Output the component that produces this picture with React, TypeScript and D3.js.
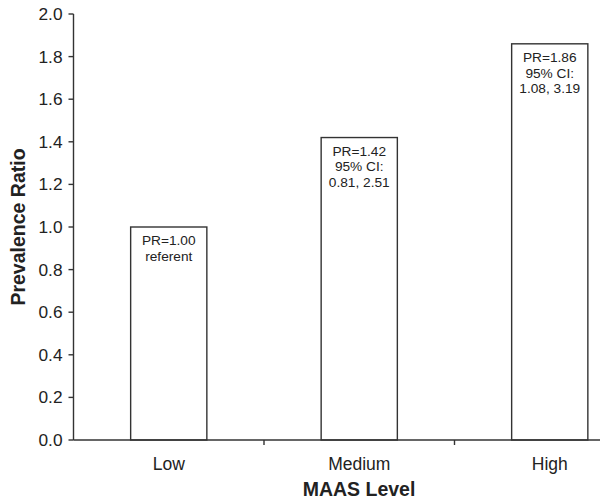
import React from 'react';
import * as d3 from 'd3';

// MAAS level categories and prevalence ratios
const categories = ['Low', 'Medium', 'High'];
const ratios = [1.0, 1.42, 1.86];
const annotations = [
  ['PR=1.00', 'referent'],
  ['PR=1.42', '95% CI:', '0.81, 2.51'],
  ['PR=1.86', '95% CI:', '1.08, 3.19'],
];
const yTicks = [0, 0.2, 0.4, 0.6, 0.8, 1.0, 1.2, 1.4, 1.6, 1.8, 2.0];

const width = 600;
const height = 504;
const axisX = 73.5;
const axisY = 440;

export default function App() {
  const y = d3.scaleLinear().domain([0, 2]).range([axisY, 14]);
  const x = d3.scaleBand<string>()
    .domain(categories)
    .range([axisX, axisX + 190.5 * 3])
    .paddingInner(0.6)
    .paddingOuter(0.3);
  const step = x.step();
  const font = '"Liberation Sans", Arial, sans-serif';
  const stroke = '#333';

  return (
    <svg width={width} height={height} style={{ position: 'absolute', left: 0, top: 0, background: '#fff' }} fontFamily={font}>
      {/* bars */}
      {categories.map((c, i) => (
        <g key={c}>
          <rect
            x={x(c)!}
            y={y(ratios[i])}
            width={x.bandwidth()}
            height={axisY - y(ratios[i])}
            fill="#fff"
            stroke={stroke}
            strokeWidth={1.4}
          />
          {annotations[i].map((t, j) => (
            <text
              key={j}
              x={x(c)! + x.bandwidth() / 2}
              y={y(ratios[i]) + 18 + j * 15.7}
              textAnchor="middle"
              fontSize={13.7}
              fill="#222"
            >
              {t}
            </text>
          ))}
        </g>
      ))}

      {/* y axis */}
      <line x1={axisX} x2={axisX} y1={y(2)} y2={axisY} stroke={stroke} strokeWidth={1.4} />
      {yTicks.map(t => (
        <g key={t}>
          <line x1={axisX - 5} x2={axisX} y1={y(t)} y2={y(t)} stroke={stroke} strokeWidth={1.4} />
          <text x={axisX - 11} y={y(t) + 6} textAnchor="end" fontSize={17.3} fill="#222">
            {t.toFixed(1)}
          </text>
        </g>
      ))}

      {/* x axis */}
      <line x1={axisX} x2={width} y1={axisY} y2={axisY} stroke={stroke} strokeWidth={1.4} />
      {categories.slice(1).map(c => (
        <line key={c} x1={x(c)! - step * 0.3} x2={x(c)! - step * 0.3} y1={axisY} y2={axisY + 5} stroke={stroke} strokeWidth={1.4} />
      ))}
      {categories.map(c => (
        <text key={c} x={x(c)! + x.bandwidth() / 2} y={470} textAnchor="middle" fontSize={17.5} fill="#222">
          {c}
        </text>
      ))}

      {/* axis titles */}
      <text x={359} y={496} textAnchor="middle" fontSize={19.5} fontWeight="bold" fill="#222">
        MAAS Level
      </text>
      <text
        transform={`translate(25,227) rotate(-90)`}
        textAnchor="middle"
        fontSize={19.5}
        fontWeight="bold"
        fill="#222"
      >
        Prevalence Ratio
      </text>
    </svg>
  );
}
